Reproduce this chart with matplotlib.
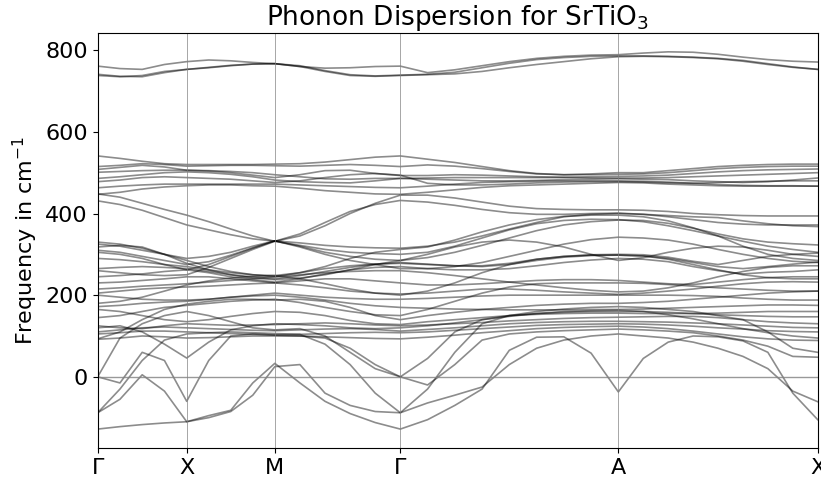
import numpy as np
import matplotlib.pyplot as plt

# high symmetry points along the path
labels = ["Γ", "X", "M", "Γ", "A", "X"]
sym_k = [0.0, 1.0, 1.99, 3.40, 5.85, 8.09]
n_seg = [4, 4, 5, 8, 8]   # sample intervals per segment

# band frequencies (cm^-1) read at the sample points, segment by segment
top_bands = [
    [761, 755, 753, 765, 772, 776, 774, 770, 767, 760, 756, 757, 760, 761,
     745, 752, 762, 772, 780, 785, 788, 789, 793, 796, 795, 790, 783, 777, 773, 771],
    [741, 736, 735, 745, 753, 758, 763, 766, 767, 762, 750, 740, 737, 739,
     741, 746, 757, 768, 777, 782, 785, 786, 786, 785, 783, 780, 775, 767, 759, 753],
    [738, 735, 738, 748, 753, 757, 762, 766, 767, 760, 748, 738, 736, 738,
     740, 742, 748, 757, 765, 772, 779, 784, 785, 784, 782, 779, 773, 765, 758, 753],
]

upper_bands = [
    [541, 535, 528, 522, 520, 520, 520, 520, 521, 522, 526, 532, 538, 541,
     533, 525, 515, 505, 498, 495, 497, 500, 500, 505, 510, 515, 518, 520, 521, 521],
    [515, 518, 522, 520, 516, 517, 518, 518, 517, 516, 518, 520, 518, 515,
     519, 516, 510, 503, 497, 495, 495, 496, 497, 500, 505, 510, 513, 515, 516, 516],
    [508, 513, 518, 514, 506, 504, 500, 494, 488, 495, 505, 506, 498, 493,
     493, 495, 494, 492, 490, 489, 490, 491, 492, 494, 498, 502, 505, 507, 508, 509],
    [501, 503, 505, 506, 506, 505, 503, 500, 495, 490, 485, 484, 486, 486,
     487, 488, 488, 488, 488, 488, 487, 487, 487, 488, 490, 492, 494, 496, 498, 500],
    [486, 490, 495, 500, 502, 500, 496, 490, 482, 478, 476, 475, 480, 486,
     484, 482, 480, 480, 481, 483, 484, 485, 484, 483, 480, 478, 476, 478, 482, 487],
    [463, 467, 470, 472, 472, 472, 472, 472, 472, 470, 468, 466, 464, 463,
     467, 472, 476, 478, 479, 480, 480, 480, 479, 477, 474, 471, 469, 468, 468, 467],
    [447, 452, 460, 465, 468, 470, 470, 468, 467, 462, 456, 452, 448, 447,
     452, 458, 464, 468, 470, 472, 474, 476, 475, 472, 470, 468, 467, 467, 467, 467],
    [478, 482, 488, 490, 488, 486, 484, 480, 476, 480, 488, 495, 498, 494,
     474, 470, 470, 472, 475, 477, 478, 478, 477, 475, 474, 476, 478, 479, 480, 480],
]

middle_bands = [
    [431, 422, 408, 390, 372, 360, 348, 338, 332, 345, 370, 400, 425, 445,
     445, 438, 428, 418, 412, 410, 409, 409, 408, 405, 400, 397, 395, 394, 394, 394],
    [448, 440, 425, 410, 396, 380, 362, 345, 332, 350, 378, 405, 422, 432,
     428, 420, 410, 402, 398, 398, 400, 401, 398, 392, 385, 378, 374, 372, 372, 372],
    [260, 255, 250, 248, 250, 268, 290, 312, 332, 322, 312, 305, 302, 300,
     305, 320, 340, 360, 375, 383, 386, 385, 380, 370, 358, 345, 332, 320, 312, 305],
    [305, 300, 290, 275, 262, 275, 295, 315, 333, 318, 300, 285, 275, 265,
     265, 270, 280, 295, 310, 325, 336, 342, 340, 335, 325, 312, 300, 290, 283, 280],
    [310, 305, 295, 285, 275, 282, 298, 316, 333, 320, 305, 295, 288, 285,
     292, 305, 322, 340, 358, 372, 380, 384, 383, 376, 364, 350, 338, 330, 326, 323],
    [325, 320, 310, 300, 290, 295, 305, 320, 333, 328, 322, 318, 316, 315,
     320, 330, 345, 362, 378, 392, 398, 400, 398, 395, 392, 390, 382, 375, 370, 368],
    [330, 325, 315, 300, 285, 270, 258, 250, 245, 255, 270, 290, 305, 312,
     318, 335, 355, 372, 385, 393, 396, 396, 392, 382, 365, 345, 320, 300, 290, 285],
    [318, 322, 318, 300, 278, 262, 250, 242, 238, 242, 250, 262, 275, 285,
     300, 318, 330, 335, 330, 318, 300, 285, 292, 305, 315, 320, 318, 310, 300, 295],
]

lower_bands = [
    [92, 95, 100, 98, 95, 96, 98, 100, 100, 100, 98, 96, 94, 93,
     97, 102, 108, 113, 118, 121, 123, 124, 122, 118, 112, 105, 98, 93, 90, 89],
    [105, 108, 112, 112, 110, 108, 106, 104, 103, 104, 106, 108, 109, 108,
     110, 114, 118, 122, 126, 128, 129, 130, 129, 127, 124, 120, 117, 113, 111, 110],
    [110, 115, 120, 122, 120, 118, 116, 114, 113, 115, 117, 118, 116, 112,
     116, 120, 125, 130, 133, 135, 136, 136, 135, 134, 132, 130, 127, 124, 121, 120],
    [125, 120, 118, 125, 130, 128, 126, 127, 128, 130, 132, 130, 127, 125,
     127, 130, 133, 137, 140, 143, 145, 146, 147, 148, 148, 145, 140, 135, 132, 130],
    [165, 160, 150, 140, 135, 140, 148, 155, 160, 158, 150, 138, 130, 128,
     135, 140, 145, 150, 153, 155, 156, 156, 155, 155, 155, 156, 158, 160, 160, 160],
    [172, 175, 180, 183, 185, 190, 195, 198, 200, 195, 188, 180, 174, 170,
     168, 166, 165, 164, 164, 164, 165, 165, 166, 168, 170, 172, 174, 176, 176, 175],
    [200, 195, 190, 188, 188, 190, 195, 200, 205, 200, 195, 192, 190, 190,
     192, 195, 198, 200, 200, 200, 200, 200, 200, 200, 199, 197, 193, 190, 188, 188],
    [205, 210, 215, 218, 220, 222, 225, 228, 230, 225, 218, 210, 205, 203,
     205, 210, 215, 215, 212, 208, 205, 202, 205, 210, 215, 222, 228, 232, 233, 232],
    [230, 232, 236, 240, 245, 245, 240, 235, 230, 235, 240, 240, 235, 230,
     225, 225, 228, 232, 236, 238, 238, 236, 232, 228, 226, 232, 238, 243, 245, 245],
    [245, 248, 252, 258, 262, 255, 245, 238, 232, 240, 252, 262, 268, 270,
     265, 262, 262, 265, 272, 280, 286, 290, 288, 282, 270, 260, 252, 256, 258, 262],
    [265, 268, 270, 268, 265, 258, 250, 245, 240, 248, 258, 268, 276, 280,
     276, 272, 270, 275, 285, 293, 297, 298, 296, 290, 280, 270, 265, 270, 276, 281],
    [290, 287, 282, 275, 270, 262, 255, 250, 248, 255, 265, 272, 276, 278,
     275, 272, 272, 278, 288, 295, 299, 300, 299, 293, 283, 275, 285, 295, 300, 303],
    [180, 185, 195, 210, 225, 235, 242, 246, 248, 240, 228, 215, 205, 200,
     210, 230, 255, 275, 288, 295, 298, 298, 296, 288, 275, 262, 250, 243, 240, 240],
    [145, 150, 160, 170, 175, 180, 185, 188, 190, 182, 170, 160, 152, 150,
     165, 185, 205, 220, 228, 230, 230, 230, 229, 226, 222, 218, 215, 212, 210, 210],
    [215, 218, 222, 225, 228, 232, 236, 240, 245, 250, 255, 258, 260, 260,
     255, 248, 240, 232, 225, 218, 212, 208, 210, 218, 230, 245, 258, 268, 272, 272],
    [93, 110, 140, 165, 178, 185, 190, 190, 188, 190, 185, 170, 150, 140,
     150, 158, 165, 170, 175, 178, 180, 180, 182, 185, 190, 195, 200, 205, 208, 210],
    [120, 125, 110, 80, 46, 85, 115, 125, 130, 128, 125, 120, 118, 120,
     125, 132, 140, 148, 155, 160, 162, 163, 160, 152, 142, 130, 118, 108, 100, 95],
]

soft_bands = [
    [-128, -122, -117, -113, -110, -95, -82, -15, 33, -15, -60, -90, -112, -128,
     -105, -70, -30, 65, 97, 98, 58, -37, 45, 85, 100, 98, 88, 60, -40, -105],
    [-88, -55, 5, -35, -110, -100, -85, -45, 25, 30, -40, -70, -85, -88,
     -64, -45, -25, 30, 70, 90, 100, 105, 100, 95, 85, 70, 50, 20, -35, -61],
    [0, -15, 60, 40, -60, 40, 100, 105, 102, 100, 95, 70, 30, 0,
     -20, 30, 90, 105, 110, 113, 115, 117, 115, 112, 108, 100, 90, 75, 50, 48],
    [0, 95, 130, 150, 160, 150, 135, 120, 115, 118, 100, 60, 20, 0,
     45, 110, 140, 150, 155, 158, 160, 160, 160, 158, 155, 152, 150, 148, 147, 147],
    [-88, -30, 40, 90, 105, 108, 110, 108, 106, 104, 80, 30, -40, -88,
     -30, 60, 130, 150, 160, 166, 170, 172, 170, 165, 160, 150, 140, 110, 70, 60],
]

# k grid built from the symmetry points
k = [np.array([sym_k[0]])]
for i, n in enumerate(n_seg):
    k.append(np.linspace(sym_k[i], sym_k[i + 1], n + 1)[1:])
k = np.concatenate(k)

fig = plt.figure(figsize=(8.21, 4.79), dpi=100)
ax = fig.add_axes([0.119, 0.065, 0.877, 0.866])

for band in top_bands + upper_bands + middle_bands + lower_bands + soft_bands:
    ax.plot(k, band, color="black", alpha=0.45, lw=1.2)

for x in sym_k:
    ax.axvline(x, color="gray", lw=0.7, alpha=0.7)
ax.axhline(0, color="gray", lw=1.0, alpha=0.8)

ax.set_xlim(sym_k[0], sym_k[-1])
ax.set_ylim(-174, 842)
ax.set_xticks(sym_k)
ax.set_xticklabels(labels)
ax.set_yticks([0, 200, 400, 600, 800])
ax.tick_params(labelsize=16)
ax.set_ylabel("Frequency in cm$^{-1}$", fontsize=16)
ax.set_title("Phonon Dispersion for SrTiO$_3$", fontsize=19, pad=4)

fig.savefig("out.png", dpi=100)
